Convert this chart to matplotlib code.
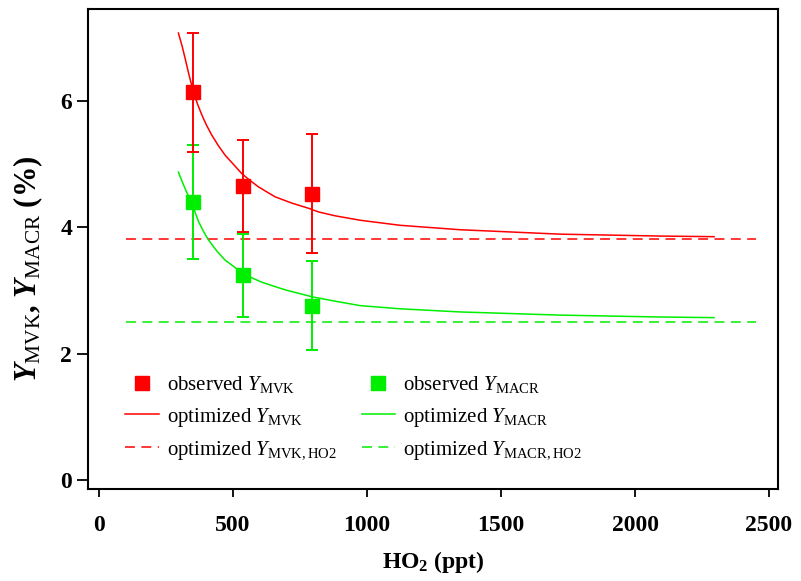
import numpy as np
import matplotlib
matplotlib.use('Agg')
from matplotlib import pyplot as plt

plt.rcParams['font.family'] = ['Liberation Serif', 'DejaVu Serif']
plt.rcParams['mathtext.fontset'] = 'custom'
plt.rcParams['mathtext.rm'] = 'Liberation Serif'
plt.rcParams['mathtext.it'] = 'Liberation Serif:italic'
plt.rcParams['mathtext.bf'] = 'Liberation Serif:bold'
plt.rcParams['mathtext.sf'] = 'Liberation Serif:bold:italic'

red = '#ff0000'
green = '#00ee00'

# observed yields (%) vs HO2 (ppt)
ho2_obs = [352, 538, 794]
y_mvk_obs = [6.13, 4.65, 4.53]
y_mvk_err = [0.94, 0.73, 0.94]
y_macr_obs = [4.40, 3.24, 2.76]
y_macr_err = [0.90, 0.66, 0.70]

# optimized curves
ho2_fit_mvk = [296, 310, 321, 336, 352, 367, 383, 400, 420, 445, 470, 500, 532, 560, 594, 625, 657,
               720, 781, 820, 881, 974, 1123, 1347, 1720, 2093, 2295]
y_mvk_fit = [7.07, 6.86, 6.67, 6.40, 6.14, 5.95, 5.78, 5.62, 5.46, 5.29, 5.14, 5.00, 4.85, 4.75, 4.64,
             4.56, 4.48, 4.38, 4.30, 4.24, 4.18, 4.11, 4.03, 3.96, 3.89, 3.86, 3.85]
ho2_fit_macr = [296, 310, 325, 346, 371, 390, 408, 440, 470, 505, 538, 570, 607, 650, 694, 740, 794,
                881, 974, 1123, 1347, 1720, 2093, 2295]
y_macr_fit = [4.87, 4.72, 4.57, 4.38, 4.09, 3.93, 3.80, 3.62, 3.48, 3.37, 3.27, 3.20, 3.13, 3.07, 3.01,
              2.96, 2.90, 2.83, 2.76, 2.71, 2.66, 2.61, 2.58, 2.57]

# HO2-limit yields
ho2_range = [100, 2450]
y_mvk_ho2 = 3.81
y_macr_ho2 = 2.50

fig = plt.figure(figsize=(8.01, 5.81), dpi=100)
ax = fig.add_axes([0.110, 0.1583, 0.8614, 0.8262])

dash = (6.5, 4.2)
l_hm, = ax.plot(ho2_range, [y_macr_ho2] * 2, color=green, lw=1.1, dashes=dash)
l_hr, = ax.plot(ho2_range, [y_mvk_ho2] * 2, color=red, lw=1.1, dashes=dash)
l_fm, = ax.plot(ho2_fit_macr, y_macr_fit, color=green, lw=1.1)
l_fr, = ax.plot(ho2_fit_mvk, y_mvk_fit, color=red, lw=1.1)

ax.errorbar(ho2_obs, y_macr_obs, yerr=y_macr_err, fmt='none', ecolor=green,
            elinewidth=1.4, capsize=4.5, capthick=1.4)
ax.errorbar(ho2_obs, y_mvk_obs, yerr=y_mvk_err, fmt='none', ecolor=red,
            elinewidth=1.4, capsize=4.5, capthick=1.4)
p_m, = ax.plot(ho2_obs, y_macr_obs, 's', color=green, ms=9.5, ls='none')
p_r, = ax.plot(ho2_obs, y_mvk_obs, 's', color=red, ms=9.5, ls='none')

handles = [p_r, l_fr, l_hr, p_m, l_fm, l_hm]
labels = [r'observed $Y_{\mathrm{MVK}}$', r'optimized $Y_{\mathrm{MVK}}$',
          r'optimized $Y_{\mathrm{MVK,HO2}}$',
          r'observed $Y_{\mathrm{MACR}}$', r'optimized $Y_{\mathrm{MACR}}$',
          r'optimized $Y_{\mathrm{MACR,HO2}}$']
ax.legend(handles, labels, ncol=2, frameon=False, loc='upper left',
          bbox_to_anchor=(0.054, 0.240), borderpad=0, borderaxespad=0,
          handlelength=1.6, handletextpad=0.4, columnspacing=1.2,
          labelspacing=0.52, numpoints=1, fontsize=15)

ax.set_xlim(-41, 2534)
ax.set_ylim(-0.14, 7.45)
ax.set_xticks([0, 500, 1000, 1500, 2000, 2500])
ax.set_yticks([0, 2, 4, 6])
for s in ax.spines.values():
    s.set_linewidth(1.5)
ax.tick_params(axis='x', direction='out', length=6, width=1.3, pad=13, labelsize=17)
ax.tick_params(axis='y', direction='out', length=8, width=1.3, pad=3.5, labelsize=17)
for t in ax.get_xticklabels() + ax.get_yticklabels():
    t.set_fontweight('bold')

ax.set_xlabel(r'HO$_\mathbf{2}$ (ppt)', fontsize=17, fontweight='bold', labelpad=9)
ax.set_ylabel(r'$\mathsf{Y}_{\mathrm{MVK}}$, $\mathsf{Y}_{\mathrm{MACR}}$ (%)',
              fontsize=22, fontweight='bold')
ax.yaxis.set_label_coords(-0.062, 0.458)

fig.savefig('out.png', dpi=100)
